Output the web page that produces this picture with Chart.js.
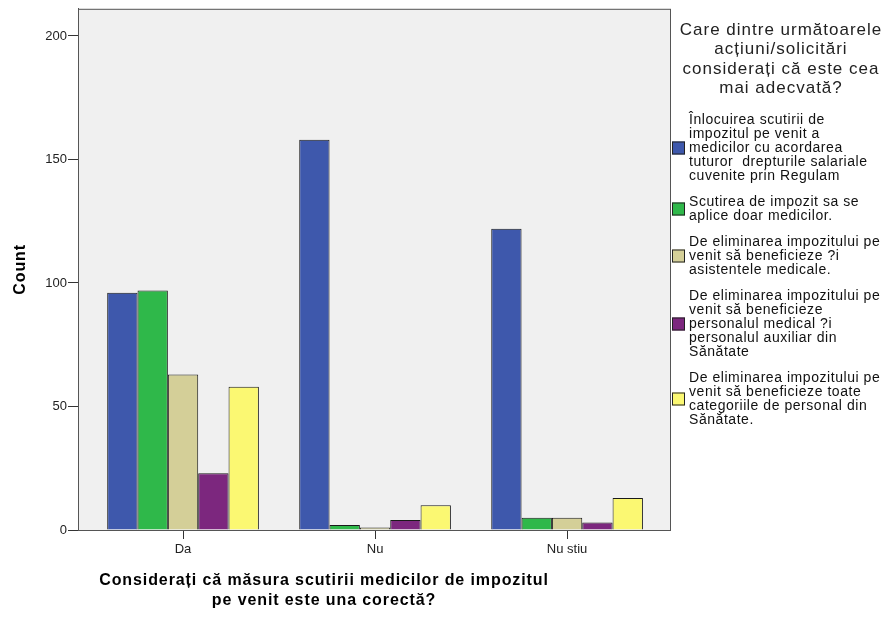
<!DOCTYPE html>
<html>
<head>
<meta charset="utf-8">
<script src="https://cdn.jsdelivr.net/npm/chart.js@4.4.0/dist/chart.umd.min.js"></script>
<style>
  html, body { margin: 0; padding: 0; background: #ffffff; }
  #wrap { width: 888px; height: 617px; position: relative; }
</style>
</head>
<body>
<div id="wrap"><canvas id="barChart" width="888" height="617"></canvas></div>
<script>
const categories = ["Da", "Nu", "Nu stiu"]

const inlocuireaScutirii = [96, 158, 122]
const doarMedicilor = [97, 2, 5]
const siAsistentele = [63, 1, 5]
const siPersonalAuxiliar = [23, 4, 3]
const toatePersonalul = [58, 10, 13]

const yTicks = [0, 50, 100, 150, 200]

const legendTitle = ["Care dintre următoarele", "acțiuni/solicitări", "considerați că este cea", "mai adecvată?"]

const seriesLabels = [
    ["Înlocuirea scutirii de", "impozitul pe venit a", "medicilor cu acordarea", "tuturor  drepturile salariale", "cuvenite prin Regulam"],
    ["Scutirea de impozit sa se", "aplice doar medicilor."],
    ["De eliminarea impozitului pe", "venit să beneficieze ?i", "asistentele medicale."],
    ["De eliminarea impozitului pe", "venit să beneficieze", "personalul medical ?i", "personalul auxiliar din", "Sănătate"],
    ["De eliminarea impozitului pe", "venit să beneficieze toate", "categoriile de personal din", "Sănătate."]
]

const seriesValues = [inlocuireaScutirii, doarMedicilor, siAsistentele, siPersonalAuxiliar, toatePersonalul]
const seriesColors = ["#3e58ac", "#2fb84a", "#d4cf98", "#7c277e", "#fbf872"]

const xTitle = ["Considerați că măsura scutirii medicilor de impozitul", "pe venit este una corectă?"]
const yTitle = "Count"

const FONT = "'Liberation Sans', Arial, sans-serif"

// plot background + frame, axis titles and the legend on the right
const spssPlugin = {
    id: "spss",
    beforeDraw(chart) {
        const ctx = chart.ctx
        const a = chart.chartArea
        ctx.save()
        ctx.fillStyle = "#f0f0f0"
        ctx.fillRect(a.left, a.top, a.right - a.left, a.bottom - a.top)
        ctx.restore()
    },
    afterDraw(chart) {
        const ctx = chart.ctx
        const a = chart.chartArea
        ctx.save()
        ctx.strokeStyle = "#555555"
        ctx.lineWidth = 1
        ctx.strokeRect(a.left + 0.5, a.top + 0.5, a.right - a.left, a.bottom - a.top)

        // x title
        ctx.fillStyle = "#000000"
        ctx.font = "bold 16px " + FONT
        ctx.letterSpacing = "0.9px"
        ctx.textAlign = "center"
        ctx.textBaseline = "middle"
        xTitle.forEach((line, i) => {
            ctx.fillText(line, 324, 581 + i * 20)
        })

        // y title
        ctx.save()
        ctx.translate(21, (a.top + a.bottom) / 2)
        ctx.rotate(-Math.PI / 2)
        ctx.fillText(yTitle, 0, 0)
        ctx.restore()

        // legend title
        ctx.font = "17px " + FONT
        ctx.letterSpacing = "1px"
        ctx.fillStyle = "#222222"
        const cx = a.right + 111
        legendTitle.forEach((line, i) => {
            ctx.fillText(line, cx, 30 + i * 19.5)
        })

        // legend items
        ctx.font = "14px " + FONT
        ctx.letterSpacing = "0.55px"
        ctx.textAlign = "left"
        const lineH = 14
        const step = 26
        let y = 120
        seriesLabels.forEach((lines, i) => {
            const blockMid = y + (lines.length - 1) * lineH / 2
            ctx.fillStyle = seriesColors[i]
            ctx.fillRect(a.right + 2, blockMid - 6.5, 13, 13)
            ctx.strokeStyle = "#222222"
            ctx.strokeRect(a.right + 2.5, blockMid - 6, 12, 12)
            ctx.fillStyle = "#111111"
            lines.forEach((line, j) => {
                ctx.fillText(line, a.right + 19, y + j * lineH)
            })
            y += (lines.length - 1) * lineH + step
        })
        ctx.restore()
    }
}

new Chart(document.getElementById("barChart"), {
    type: "bar",
    data: {
        datasets: seriesValues.map((vals, i) => ({
            label: seriesLabels[i].join(" "),
            data: vals.map((v, k) => ({ x: k, y: v })),
            backgroundColor: seriesColors[i],
            borderColor: "#1a1a1a",
            borderWidth: 1,
            barPercentage: 1,
            categoryPercentage: 0.79
        }))
    },
    options: {
        responsive: false,
        animation: false,
        layout: {
            padding: { top: 8, right: 218, left: 0, bottom: 0 }
        },
        scales: {
            x: {
                type: "linear",
                offset: false,
                min: -0.547,
                max: 2.536,
                afterBuildTicks: (scale) => {
                    scale.ticks = categories.map((c, i) => ({ value: i }))
                },
                afterFit: (scale) => {
                    scale.height = 87
                },
                grid: {
                    display: true,
                    offset: false,
                    drawOnChartArea: false,
                    drawTicks: true,
                    tickLength: 9,
                    color: "#333333"
                },
                border: { display: true, color: "#555555" },
                ticks: {
                    padding: 3,
                    color: "#222222",
                    font: { family: FONT, size: 13 },
                    callback: (value) => categories[value]
                }
            },
            y: {
                min: 0,
                max: 211,
                afterBuildTicks: (scale) => {
                    scale.ticks = yTicks.map(v => ({ value: v }))
                },
                afterFit: (scale) => {
                    scale.width = 78
                },
                grid: {
                    display: true,
                    drawOnChartArea: false,
                    drawTicks: true,
                    tickLength: 10,
                    color: "#333333"
                },
                border: { display: true, color: "#555555" },
                ticks: {
                    padding: 1,
                    color: "#222222",
                    font: { family: FONT, size: 13 }
                }
            }
        },
        plugins: {
            legend: { display: false },
            tooltip: { enabled: false }
        }
    },
    plugins: [spssPlugin]
})
</script>
</body>
</html>
